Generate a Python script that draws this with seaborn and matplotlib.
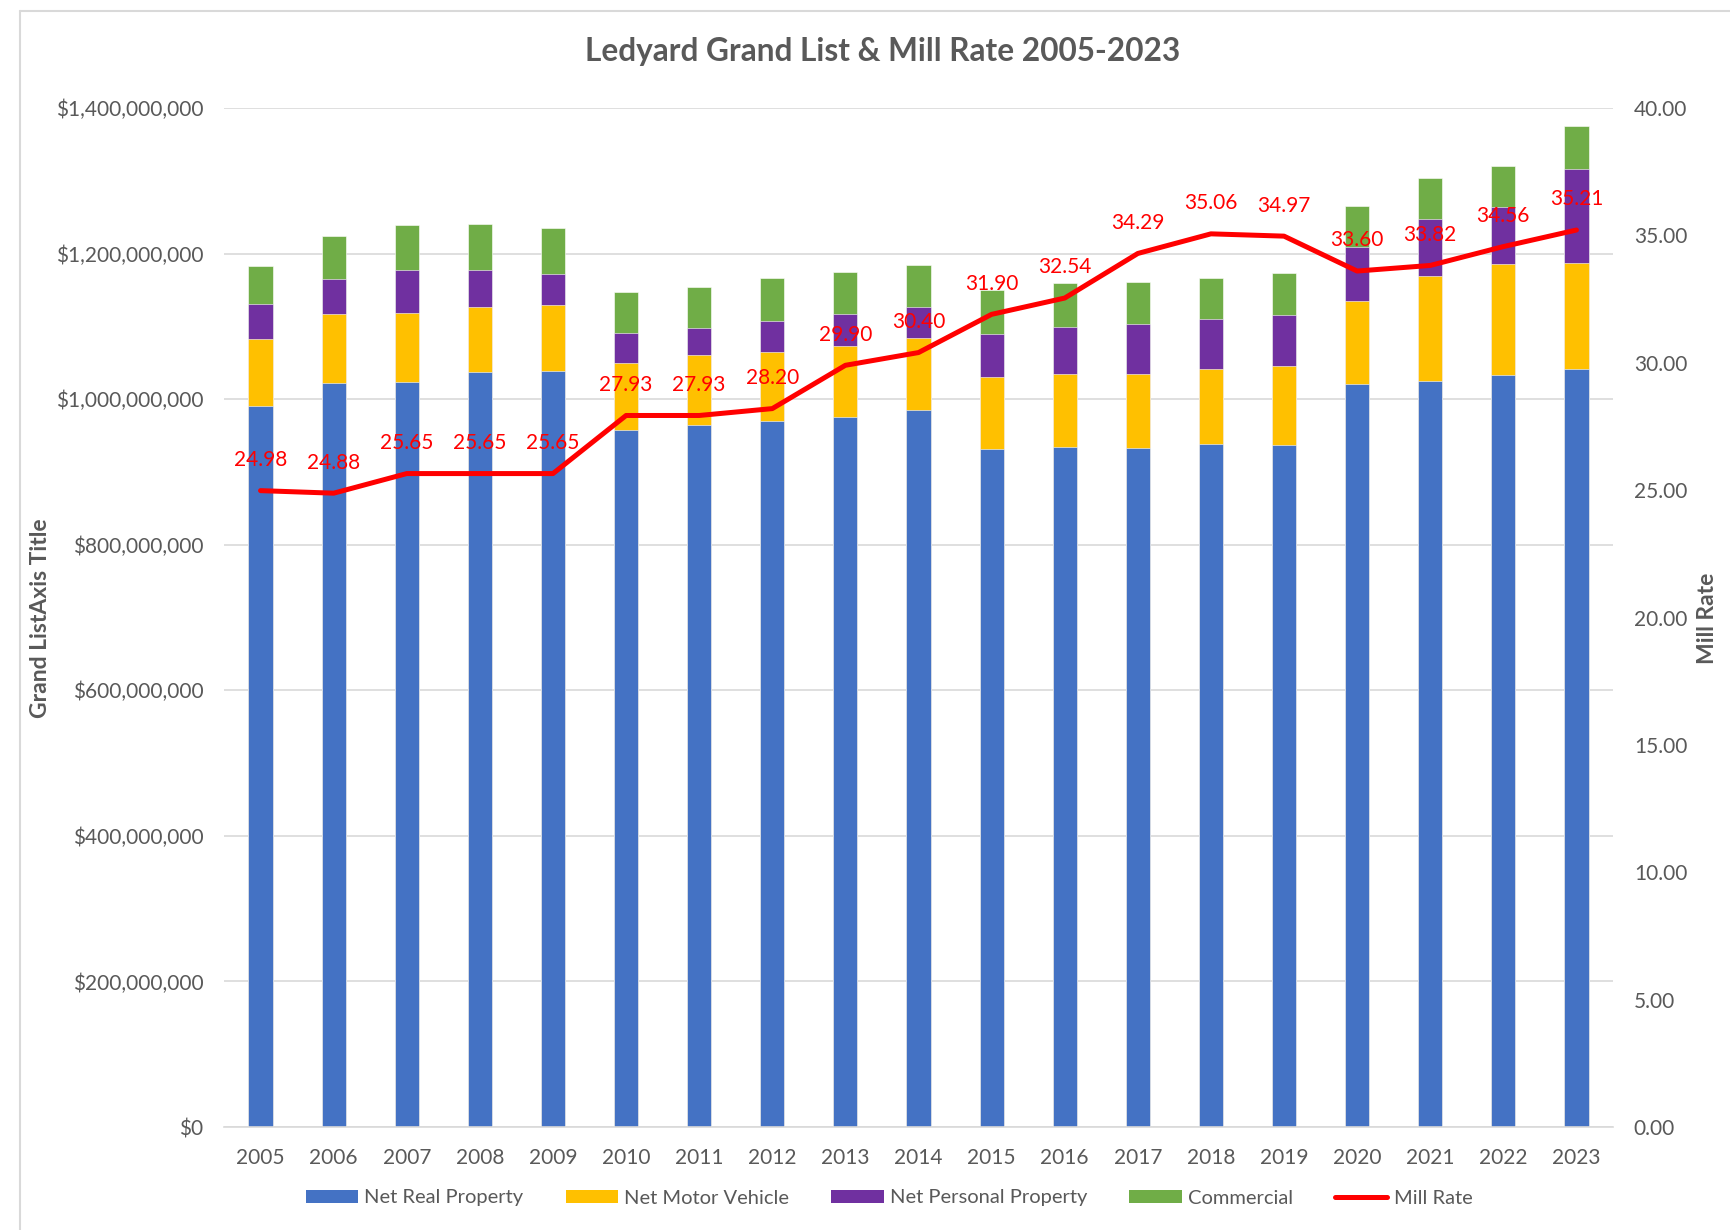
import numpy as np
import pandas as pd
import seaborn as sns
import matplotlib.pyplot as plt
from matplotlib.patches import Patch
from matplotlib.lines import Line2D
from matplotlib.ticker import FuncFormatter, MultipleLocator

# values in $ millions
years = [str(y) for y in range(2005, 2024)]
real_property = [990, 1022, 1024, 1037, 1039, 958, 964, 970, 976, 985,
                 932, 934, 932.5, 938, 937, 1020.5, 1025.5, 1033, 1041]
motor_vehicle = [93, 95, 95, 89, 90, 91.5, 97, 94.5, 97.5, 99,
                 98.5, 100.5, 102, 104, 109, 115, 144, 152.5, 146]
personal_property = [48, 47.5, 58.5, 52, 43.5, 42, 37, 43.5, 44, 43,
                     58.5, 65, 68.5, 68, 69.5, 73, 77.5, 78, 129.5]
commercial = [52, 60, 61.5, 62.5, 62.5, 55.5, 56.5, 58, 57.5, 57.5,
              61, 59.5, 58.5, 56.5, 57.5, 57, 57, 57.5, 59]
mill_rate = [24.98, 24.88, 25.65, 25.65, 25.65, 27.93, 27.93, 28.20, 29.90, 30.40,
             31.90, 32.54, 34.29, 35.06, 34.97, 33.60, 33.82, 34.56, 35.21]

series_names = ["Net Real Property", "Net Motor Vehicle", "Net Personal Property", "Commercial"]
colors = ["#4472C4", "#FFC000", "#7030A0", "#70AD47"]

df = pd.DataFrame({
    "Year": years,
    "Net Real Property": np.array(real_property) * 1e6,
    "Net Motor Vehicle": np.array(motor_vehicle) * 1e6,
    "Net Personal Property": np.array(personal_property) * 1e6,
    "Commercial": np.array(commercial) * 1e6,
})
cum = df[series_names].cumsum(axis=1)

sns.set_style("white")
plt.rcParams["font.family"] = ["Lato", "DejaVu Sans"]
gray = "#595959"

W, H = 1731, 1230
fig = plt.figure(figsize=(W / 100, H / 100), dpi=100)
ax = fig.add_axes([224 / W, 1 - 1127 / H, (1613 - 224) / W, (1127 - 108) / H])

# stacked bars: draw cumulative totals from the top segment down
for name, c in reversed(list(zip(series_names, colors))):
    sns.barplot(x=df["Year"], y=cum[name], color=c, saturation=1, width=0.33,
                ax=ax, edgecolor="white", linewidth=0.4)

ax.set_ylim(0, 1.4e9)
ax.yaxis.set_major_locator(MultipleLocator(2e8))
ax.yaxis.set_major_formatter(FuncFormatter(lambda v, p: f"${v:,.0f}"))
ax.yaxis.grid(True, color="#D9D9D9", lw=1.2)
ax.set_axisbelow(True)
ax.set_xlabel("")
ax.set_ylabel("")
for s in ["top", "left", "right"]:
    ax.spines[s].set_visible(False)
ax.spines["bottom"].set_color("#D9D9D9")
ax.spines["bottom"].set_linewidth(1.2)
ax.tick_params(axis="y", length=0, pad=15, labelsize=15, labelcolor=gray)
ax.tick_params(axis="x", length=0, pad=15, labelsize=15, labelcolor=gray)

ax2 = ax.twinx()
xs = np.arange(len(years))
sns.lineplot(x=xs, y=mill_rate, color="#FF0000", lw=3.6, ax=ax2)
ax2.set_ylim(0, 40)
ax2.yaxis.set_major_locator(MultipleLocator(5))
ax2.yaxis.set_major_formatter(FuncFormatter(lambda v, p: f"{v:.2f}"))
ax2.tick_params(axis="y", length=0, pad=15, labelsize=15, labelcolor=gray)
for s in ["top", "left", "right", "bottom"]:
    ax2.spines[s].set_visible(False)
ax2.set_ylabel("")
ax2.set_xlim(-0.5, len(years) - 0.5)

for x, v in zip(xs, mill_rate):
    ax2.annotate(f"{v:.2f}", (x, v), xytext=(0, 22), textcoords="offset points",
                 ha="center", va="center", color="#FF0000", fontsize=15)

fig.text(883 / W, 1 - 52 / H, "Ledyard Grand List & Mill Rate 2005-2023",
         ha="center", va="center", fontsize=22.8, fontweight="bold", color=gray)
fig.text(41 / W, 1 - 618 / H, "Grand ListAxis Title", rotation=90,
         ha="center", va="center", fontsize=16.5, fontweight="bold", color=gray)
fig.text(1708 / W, 1 - 618 / H, "Mill Rate", rotation=90,
         ha="center", va="center", fontsize=16.5, fontweight="bold", color=gray)

handles = [Patch(facecolor=c, edgecolor="none") for c in colors]
handles.append(Line2D([0], [0], color="#FF0000", lw=3.6))
fig.legend(handles, series_names + ["Mill Rate"], loc="center",
           bbox_to_anchor=(889 / W, 1 - 1198 / H), ncol=5, frameon=False,
           fontsize=14.5, handlelength=2.6, handleheight=0.6, handletextpad=0.3,
           columnspacing=2.1, labelcolor=gray)

# chart area border (top and left edges visible)
border = "#D9D9D9"
fig.add_artist(Line2D([20 / W, 1], [1 - 11 / H, 1 - 11 / H], color=border, lw=1.5))
fig.add_artist(Line2D([20 / W, 20 / W], [0, 1 - 11 / H], color=border, lw=1.5))

fig.savefig("out.png", dpi=100)
